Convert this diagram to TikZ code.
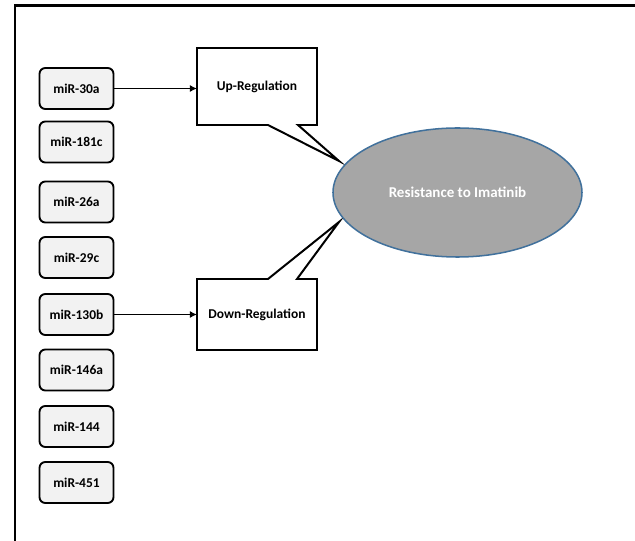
\documentclass[tikz,border=0pt]{standalone}
\usepackage{fontspec}
\setmainfont{Carlito}
\usetikzlibrary{shapes.geometric,arrows.meta}
\definecolor{boxgray}{HTML}{F2F2F2}
\definecolor{ovalgray}{HTML}{A6A6A6}
\definecolor{ovalblue}{HTML}{41719C}
\tikzset{
  mirbox/.style={draw, line width=1.6pt, rounded corners=5pt, fill=boxgray,
    minimum width=2.22cm, minimum height=1.23cm, inner sep=0pt,
    font=\bfseries\fontsize{11.5}{13}\selectfont},
  regtext/.style={minimum width=3.6cm, inner sep=0pt, outer sep=0pt,
    font=\bfseries\fontsize{11.5}{13}\selectfont},
  callout/.style={draw, fill=white, line width=1.7pt, line join=miter},
  arr/.style={-{Latex[length=6pt,width=6pt]}, line width=1.6pt}
}
\begin{document}
\begin{tikzpicture}[x=0.03cm, y=-0.03cm]
    \useasboundingbox (0,0) rectangle (635,541);
    \draw[line width=2pt] (15,541) -- (15,5.5) -- (635,5.5);
    % microRNAs
    \node[mirbox] (m30a) at (76.5,88.5) {miR-30a};
    \node[mirbox] (m181c) at (76.5,142) {miR-181c};
    \node[mirbox] (m26a) at (76.5,202) {miR-26a};
    \node[mirbox] (m29c) at (76.5,257.5) {miR-29c};
    \node[mirbox] (m130b) at (76.5,314.5) {miR-130b};
    \node[mirbox] (m146a) at (76.5,370) {miR-146a};
    \node[mirbox] (m144) at (76.5,426.5) {miR-144};
    \node[mirbox] (m451) at (76.5,482.5) {miR-451};
    % callouts
    \coordinate (uptip) at (339,161);
    \coordinate (downtip) at (339,222);
    \draw[callout] (197,48) -- (317,48) -- (317,125) -- (298,125) -- (uptip)
        -- (268,125) -- (197,125) -- cycle;
    \draw[callout] (197,350) -- (317,350) -- (317,279) -- (297,279) -- (downtip)
        -- (268,279) -- (197,279) -- cycle;
    \node[regtext, minimum height=2.31cm] (up) at (257,86.5) {Up-Regulation};
    \node[regtext, minimum height=2.13cm] (down) at (257,314.5) {Down-Regulation};
    \draw[arr] (m30a) -- (m30a -| up.west);
    \draw[arr] (m130b) -- (m130b -| down.west);
    % outcome
    \node[ellipse, draw=ovalblue, line width=1.3pt, fill=ovalgray, text=white,
        minimum width=7.47cm, minimum height=3.87cm, inner sep=0pt,
        font=\bfseries\fontsize{12.8}{15}\selectfont] (res) at (457.5,192.5)
        {Resistance to Imatinib};
\end{tikzpicture}
\end{document}
